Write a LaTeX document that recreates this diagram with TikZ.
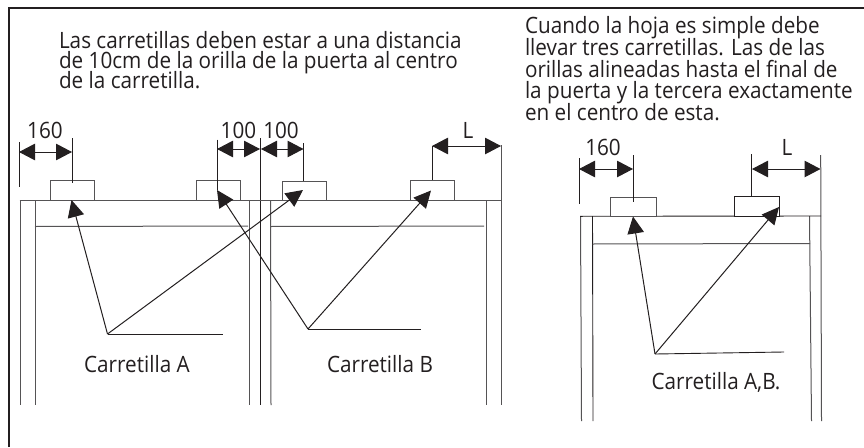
\documentclass[tikz,border=0pt]{standalone}
\usepackage{fontspec}
\setmainfont[FakeStretch=0.92]{Open Sans}
\usetikzlibrary{arrows.meta}
\definecolor{ink}{HTML}{231F20}
\definecolor{soft}{HTML}{555355}
\tikzset{
  x=1pt,y=-1pt,
  frameline/.style={draw=ink,line width=2pt},
  doorline/.style={draw=soft,line width=1pt},
  extline/.style={draw=ink,line width=0.9pt},
  cart/.style={draw=soft,line width=1pt,fill=white,minimum height=0pt,minimum width=0pt,inner sep=0pt,outer sep=0pt,anchor=north west},
  dim/.style={draw=ink,line width=1pt,{Triangle[length=16pt,width=16.5pt]}-{Triangle[length=16pt,width=16.5pt]}},
  leader/.style={draw=ink,line width=1pt,-{Triangle[length=17pt,width=16.5pt]}},
  shelf/.style={draw=ink,line width=0.9pt},
  para/.style={text=ink,font=\fontsize{22.5}{24}\selectfont,anchor=base west,inner sep=0pt,outer sep=0pt},
  lab/.style={text=ink,font=\fontsize{22.5}{24}\selectfont,anchor=base,inner sep=0pt,outer sep=0pt},
}
\begin{document}
\begin{tikzpicture}
\useasboundingbox (0,0) rectangle (864,447);
\fill[white] (0,0) rectangle (864,447);
% frame
\draw[frameline] (8.5,447) -- (8.5,8) -- (864,8);
% texts
\node[para] (t1a) at (59,48.5) {Las carretillas deben estar a una distancia};
\node[para] (t1b) at (59,68) {de 10cm de la orilla de la puerta al centro};
\node[para] (t1c) at (59,88) {de la carretilla.};
\node[para] (t2a) at (525,33) {Cuando la hoja es simple debe};
\node[para] (t2b) at (525,55) {llevar tres carretillas. Las de las};
\node[para] (t2c) at (525,77) {orillas alineadas hasta el final de};
\node[para] (t2d) at (525,98) {la puerta y la tercera exactamente};
\node[para] (t2e) at (525,120) {en el centro de esta.};
% doors left
\draw[doorline] (20,200) -- (20,405);
\draw[doorline] (35,200) -- (35,405);
\draw[doorline] (35,226.5) -- (248,226);
\draw[doorline] (249,200) -- (249,405);
\draw[extline] (260.5,138) -- (260.5,405);
\draw[doorline] (270.5,200) -- (271,405);
\draw[doorline] (270.5,226.5) -- (484,226);
\draw[doorline] (486,200) -- (486,405);
\draw[doorline] (501,145) -- (501,405);
\draw[doorline] (19.5,200) -- (501,200);
% carts
\node[cart,minimum width=44.5pt,minimum height=20pt] (c1) at (50,180) {};
\node[cart,minimum width=44pt,minimum height=20pt] (c2) at (196,180) {};
\node[cart,minimum width=44pt,minimum height=19.5pt] (c3) at (282,181) {};
\node[cart,minimum width=44pt,minimum height=20pt] (c4) at (410,180) {};
% extension lines
\coordinate (e1a) at (19,142); \coordinate (e1b) at (19,187);
\coordinate (e2a) at (72,138); \coordinate (e2b) at (72,183);
\coordinate (e3a) at (217,139.5); \coordinate (e3b) at (217,190);
\coordinate (e4a) at (303.5,143); \coordinate (e4b) at (303.5,181);
\coordinate (e5a) at (432,146); \coordinate (e5b) at (432,180);
\draw[extline] (e1a) -- (e1b);
\draw[extline] (e2a) -- (e2b);
\draw[extline] (e3a) -- (e3b);
\draw[extline] (e4a) -- (e4b);
\draw[extline] (e5a) -- (e5b);
% dimensions
\coordinate (d1a) at (19,152); \coordinate (d1b) at (72,152);
\coordinate (d2a) at (217,149); \coordinate (d2b) at (260,149);
\coordinate (d3a) at (261,149); \coordinate (d3b) at (303.5,149);
\coordinate (d4a) at (432,146); \coordinate (d4b) at (501,146);
\draw[dim] (d1a) -- (d1b);
\draw[dim] (d2a) -- (d2b);
\draw[dim] (d3a) -- (d3b);
\draw[dim] (d4a) -- (d4b);
\node[lab] (l160) at (45,138) {160};
\node[lab] (l100a) at (238.5,138) {100};
\node[lab] (l100b) at (281,138) {100};
\node[lab] (lL) at (468,138) {L};
% leaders
\coordinate (pa) at (107.5,334); \coordinate (pae) at (223,334);
\coordinate (pb) at (308,329); \coordinate (pbe) at (421,329);
\coordinate (ta1) at (71.5,200); \coordinate (ta2) at (303,190);
\coordinate (tb1) at (217,190); \coordinate (tb2) at (431,190.5);
\draw[shelf] (pa) -- (pae);
\draw[shelf] (pb) -- (pbe);
\draw[leader] (pa) -- (ta1);
\draw[leader] (pa) -- (ta2);
\draw[leader] (pb) -- (tb1);
\draw[leader] (pb) -- (tb2);
\node[lab] (la) at (137,372) {Carretilla A};
\node[lab] (lb) at (380,372) {Carretilla B};
% right door
\draw[doorline] (580.5,216) -- (581.5,421);
\draw[extline] (592.5,216) -- (593,421);
\draw[doorline] (809.5,216) -- (811.5,421);
\draw[doorline] (820.7,155) -- (821.5,421);
\draw[doorline] (592.5,244) -- (810,243.5);
\draw[extline] (580,216.3) -- (821,216);
\node[cart,minimum width=45.5pt,minimum height=19.5pt] (c5) at (610.5,197) {};
\node[cart,minimum width=45.5pt,minimum height=20pt,draw=ink] (c6) at (734,196) {};
\coordinate (e6a) at (579,158); \coordinate (e6b) at (579,204);
\coordinate (e7a) at (633,155); \coordinate (e7b) at (633,201.5);
\coordinate (e8a) at (751.7,154); \coordinate (e8b) at (751.7,196);
\draw[extline] (e6a) -- (e6b);
\draw[extline] (e7a) -- (e7b);
\draw[extline] (e8a) -- (e8b);
\coordinate (d5a) at (579,169); \coordinate (d5b) at (633,169);
\coordinate (d6a) at (752,169); \coordinate (d6b) at (820.5,169);
\draw[dim] (d5a) -- (d5b);
\draw[dim] (d6a) -- (d6b);
\node[lab] (l160r) at (603,155) {160};
\node[lab] (lLr) at (787,155) {L};
\coordinate (pc) at (655,354); \coordinate (pce) at (784,352);
\coordinate (tc1) at (633,216.5); \coordinate (tc2) at (779,207);
\draw[shelf] (pc) -- (pce);
\draw[leader] (pc) -- (tc1);
\draw[leader] (pc) -- (tc2);
\node[lab] (lc) at (716,389) {Carretilla A,B.};
\end{tikzpicture}
\end{document}
